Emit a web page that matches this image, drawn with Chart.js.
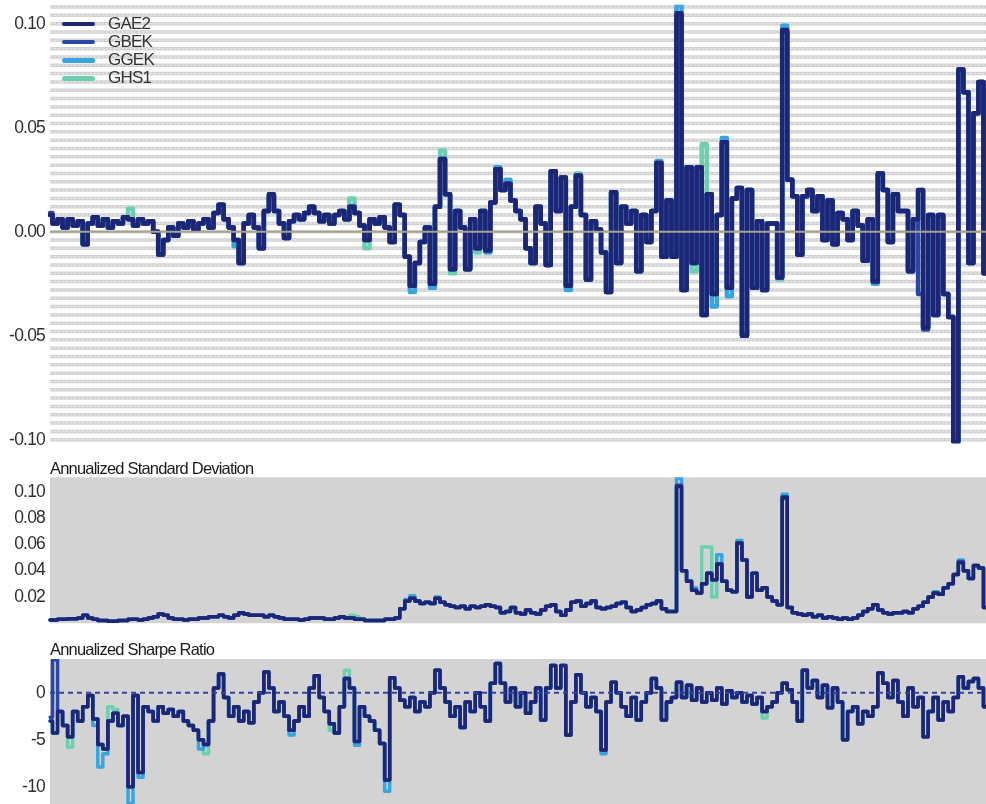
<!DOCTYPE html>
<html>
<head>
<meta charset="utf-8">
<script src="https://cdn.jsdelivr.net/npm/chart.js@4.4.1/dist/chart.umd.min.js"></script>
<style>
  html, body { margin: 0; padding: 0; background: #fff; width: 986px; height: 804px; overflow: hidden; position: relative; }
  .panel { position: absolute; left: 0; width: 986px; }
  #legend { position: absolute; left: 0; top: 0; font-family: "Liberation Sans", Arial, sans-serif; font-size: 17px; letter-spacing: -0.8px; color: #333; }
  #legend .row { position: absolute; left: 0; height: 20px; line-height: 20px; white-space: nowrap; }
  #legend .swatch { position: absolute; left: 62px; top: 8px; width: 33px; height: 4.5px; border-radius: 3px; }
  #legend .name { position: absolute; left: 108px; top: 0; }
</style>
</head>
<body>
<div class="panel" style="top:-16px;height:479px"><canvas id="retChart"></canvas></div>
<div class="panel" style="top:458px;height:185px"><canvas id="sdChart"></canvas></div>
<div class="panel" style="top:640px;height:184px"><canvas id="srChart"></canvas></div>
<div id="legend"></div>
<script>
// Series names and line colours
const SERIES = ['GAE2', 'GBEK', 'GGEK', 'GHS1'];
const COLORS = ['#1d2676', '#2a47a6', '#38a5df', '#6ccfb1'];

// Tick values for each panel
const RET_TICKS = [-0.10, -0.05, 0.00, 0.05, 0.10];
const SD_TICKS = [0.02, 0.04, 0.06, 0.08, 0.10];
const SR_TICKS = [-10, -5, 0];

// Rolling returns
const RET_GAE2 = [
  0.008, 0.004, 0.006, 0.002, 0.006, 0.003, 0.005, -0.006, 0.004, 0.007,
  0.003, 0.006, 0.002, 0.005, 0.004, 0.007, 0.006, 0.003, 0.006, 0.004,
  0.005, 0.000, -0.011, -0.004, 0.002, -0.002, 0.004, 0.002, 0.005, 0.001,
  0.004, 0.006, 0.002, 0.009, 0.013, 0.006, 0.002, -0.004, -0.015, 0.004,
  0.008, 0.002, -0.008, 0.010, 0.018, 0.010, 0.004, -0.003, 0.005, 0.008,
  0.006, 0.009, 0.012, 0.009, 0.005, 0.008, 0.004, 0.008, 0.010, 0.006,
  0.012, 0.009, 0.003, -0.004, 0.006, 0.004, 0.007, 0.002, -0.005, 0.013,
  0.008, -0.012, -0.026, -0.015, -0.005, 0.002, -0.025, 0.012, 0.035, 0.018,
  -0.018, 0.010, 0.002, -0.018, 0.006, -0.008, 0.010, -0.009, 0.014, 0.030,
  0.020, 0.023, 0.015, 0.010, 0.006, -0.008, -0.015, 0.012, 0.004, -0.016,
  0.029, 0.010, 0.026, -0.026, 0.012, 0.027, 0.008, -0.023, 0.005, 0.001,
  -0.010, -0.029, 0.019, -0.015, 0.012, 0.004, 0.010, -0.019, 0.008, -0.005,
  0.010, 0.033, -0.012, 0.015, -0.012, 0.105, -0.028, 0.031, -0.015, 0.031,
  -0.040, 0.018, -0.030, 0.008, 0.043, -0.027, 0.016, 0.021, -0.050, 0.020,
  -0.027, 0.005, -0.028, 0.004, 0.004, -0.022, 0.097, 0.025, 0.017, -0.011,
  0.017, 0.020, 0.010, 0.017, -0.004, 0.015, -0.006, 0.009, 0.006, -0.004,
  0.010, 0.003, -0.014, 0.006, -0.024, 0.028, 0.020, -0.005, 0.018, 0.010,
  0.010, -0.019, 0.006, 0.020, -0.046, 0.008, -0.040, 0.008, -0.030, -0.041,
  -0.101, 0.078, 0.067, -0.015, 0.057, 0.072, -0.020
];
const RET_GBEK = [
  0.009, 0.004, 0.006, 0.002, 0.006, 0.003, 0.005, -0.006, 0.004, 0.007,
  0.003, 0.006, 0.002, 0.005, 0.004, 0.007, 0.006, 0.003, 0.006, 0.004,
  0.005, 0.000, -0.011, -0.004, 0.002, -0.002, 0.004, 0.002, 0.005, 0.001,
  0.004, 0.006, 0.002, 0.009, 0.013, 0.006, 0.002, -0.004, -0.015, 0.004,
  0.008, 0.002, -0.008, 0.010, 0.017, 0.010, 0.004, -0.003, 0.005, 0.008,
  0.006, 0.009, 0.012, 0.009, 0.005, 0.008, 0.004, 0.008, 0.010, 0.006,
  0.012, 0.009, 0.003, -0.004, 0.006, 0.004, 0.007, 0.002, -0.005, 0.013,
  0.008, -0.012, -0.026, -0.015, -0.005, 0.002, -0.025, 0.012, 0.035, 0.018,
  -0.018, 0.010, 0.002, -0.018, 0.006, -0.008, 0.010, -0.009, 0.014, 0.030,
  0.020, 0.023, 0.015, 0.010, 0.006, -0.008, -0.015, 0.012, 0.004, -0.016,
  0.029, 0.010, 0.026, -0.026, 0.012, 0.027, 0.008, -0.023, 0.005, 0.001,
  -0.010, -0.029, 0.019, -0.015, 0.012, 0.004, 0.010, -0.019, 0.008, -0.005,
  0.010, 0.033, -0.012, 0.015, -0.012, 0.104, -0.028, 0.031, -0.015, 0.031,
  -0.040, 0.018, -0.030, 0.008, 0.043, -0.027, 0.016, 0.021, -0.050, 0.020,
  -0.027, 0.005, -0.028, 0.004, 0.004, -0.022, 0.096, 0.025, 0.017, -0.011,
  0.017, 0.020, 0.010, 0.017, -0.004, 0.015, -0.006, 0.009, 0.006, -0.004,
  0.010, 0.003, -0.014, 0.006, -0.024, 0.028, 0.020, -0.005, 0.018, 0.010,
  0.010, -0.019, 0.006, -0.030, -0.047, 0.008, -0.040, 0.008, -0.030, -0.041,
  -0.101, 0.078, 0.067, -0.015, 0.057, 0.072, -0.020
];
const RET_GGEK = [
  0.008, 0.004, 0.006, 0.002, 0.006, 0.003, 0.005, -0.006, 0.004, 0.007,
  0.003, 0.006, 0.002, 0.005, 0.004, 0.007, 0.006, 0.003, 0.006, 0.004,
  0.005, 0.000, -0.011, -0.004, 0.002, -0.002, 0.004, 0.002, 0.005, 0.001,
  0.004, 0.006, 0.002, 0.009, 0.013, 0.006, 0.002, -0.007, -0.015, 0.004,
  0.008, 0.002, -0.008, 0.010, 0.018, 0.010, 0.004, -0.003, 0.005, 0.008,
  0.006, 0.009, 0.012, 0.009, 0.005, 0.008, 0.004, 0.008, 0.010, 0.006,
  0.012, 0.009, 0.003, -0.004, 0.006, 0.004, 0.007, 0.002, -0.005, 0.013,
  0.008, -0.012, -0.029, -0.015, -0.005, 0.002, -0.027, 0.012, 0.035, 0.018,
  -0.018, 0.010, 0.002, -0.018, 0.006, -0.008, 0.010, -0.010, 0.014, 0.031,
  0.020, 0.025, 0.015, 0.010, 0.006, -0.008, -0.015, 0.012, 0.004, -0.016,
  0.029, 0.010, 0.026, -0.028, 0.012, 0.027, 0.008, -0.023, 0.005, 0.001,
  -0.010, -0.029, 0.019, -0.015, 0.012, 0.004, 0.010, -0.019, 0.008, -0.005,
  0.010, 0.034, -0.012, 0.015, -0.012, 0.109, -0.028, 0.031, -0.015, 0.031,
  -0.040, 0.018, -0.036, 0.008, 0.045, -0.031, 0.016, 0.021, -0.050, 0.020,
  -0.027, 0.005, -0.028, 0.004, 0.004, -0.022, 0.099, 0.025, 0.017, -0.011,
  0.017, 0.020, 0.010, 0.017, -0.004, 0.015, -0.006, 0.009, 0.006, -0.004,
  0.010, 0.003, -0.014, 0.006, -0.025, 0.028, 0.020, -0.005, 0.018, 0.010,
  0.010, -0.019, 0.006, 0.020, -0.046, 0.008, -0.040, 0.008, -0.030, -0.041,
  -0.101, 0.078, 0.067, -0.015, 0.057, 0.072, -0.020
];
const RET_GHS1 = [
  0.008, 0.004, 0.006, 0.002, 0.006, 0.003, 0.005, -0.006, 0.004, 0.007,
  0.003, 0.006, 0.002, 0.005, 0.004, 0.007, 0.011, 0.003, 0.006, 0.004,
  0.005, 0.000, -0.011, -0.004, 0.002, -0.002, 0.004, 0.002, 0.005, 0.001,
  0.004, 0.006, 0.002, 0.009, 0.013, 0.006, 0.002, -0.004, -0.015, 0.004,
  0.008, 0.002, -0.008, 0.010, 0.018, 0.010, 0.004, -0.003, 0.005, 0.008,
  0.006, 0.009, 0.012, 0.009, 0.005, 0.008, 0.004, 0.008, 0.010, 0.006,
  0.016, 0.009, 0.003, -0.008, 0.006, 0.004, 0.007, 0.002, -0.005, 0.013,
  0.008, -0.012, -0.026, -0.015, -0.005, 0.002, -0.025, 0.012, 0.039, 0.018,
  -0.020, 0.010, 0.002, -0.018, 0.006, -0.010, 0.010, -0.009, 0.014, 0.030,
  0.020, 0.023, 0.015, 0.010, 0.006, -0.008, -0.015, 0.012, 0.004, -0.016,
  0.029, 0.010, 0.026, -0.026, 0.012, 0.028, 0.008, -0.023, 0.005, 0.001,
  -0.010, -0.029, 0.019, -0.015, 0.012, 0.004, 0.010, -0.019, 0.008, -0.005,
  0.010, 0.033, -0.012, 0.015, -0.012, 0.104, -0.028, 0.031, -0.019, 0.031,
  0.042, 0.018, -0.030, 0.008, 0.043, -0.027, 0.016, 0.021, -0.050, 0.020,
  -0.027, 0.005, -0.028, 0.004, 0.004, -0.023, 0.096, 0.025, 0.017, -0.011,
  0.017, 0.020, 0.010, 0.017, -0.004, 0.015, -0.006, 0.009, 0.006, -0.004,
  0.010, 0.003, -0.014, 0.006, -0.024, 0.028, 0.020, -0.005, 0.018, 0.010,
  0.010, -0.019, 0.006, 0.020, -0.046, 0.008, -0.040, 0.008, -0.030, -0.041,
  -0.101, 0.078, 0.067, -0.015, 0.057, 0.072, -0.020
];

// Annualized standard deviation
const SD_GAE2 = [
  0.0025, 0.0025, 0.003, 0.003, 0.0035, 0.0035, 0.004, 0.006, 0.004, 0.003,
  0.002, 0.002, 0.0015, 0.0015, 0.002, 0.002, 0.003, 0.003, 0.0025, 0.003,
  0.004, 0.005, 0.007, 0.006, 0.004, 0.003, 0.003, 0.0025, 0.003, 0.003,
  0.004, 0.004, 0.005, 0.005, 0.006, 0.005, 0.004, 0.006, 0.008, 0.007,
  0.006, 0.006, 0.006, 0.005, 0.006, 0.005, 0.004, 0.003, 0.003, 0.003,
  0.0025, 0.003, 0.004, 0.004, 0.004, 0.003, 0.003, 0.004, 0.005, 0.004,
  0.004, 0.003, 0.003, 0.002, 0.002, 0.002, 0.002, 0.003, 0.003, 0.004,
  0.011, 0.017, 0.019, 0.017, 0.015, 0.016, 0.015, 0.019, 0.016, 0.014,
  0.013, 0.012, 0.013, 0.011, 0.013, 0.012, 0.013, 0.014, 0.013, 0.012,
  0.008, 0.009, 0.012, 0.008, 0.007, 0.010, 0.008, 0.007, 0.010, 0.013,
  0.014, 0.009, 0.006, 0.010, 0.016, 0.017, 0.013, 0.015, 0.017, 0.012,
  0.011, 0.012, 0.013, 0.015, 0.016, 0.012, 0.009, 0.010, 0.012, 0.014,
  0.015, 0.017, 0.011, 0.009, 0.009, 0.104, 0.040, 0.032, 0.025, 0.023,
  0.030, 0.038, 0.033, 0.045, 0.032, 0.025, 0.024, 0.061, 0.048, 0.020,
  0.038, 0.025, 0.027, 0.020, 0.017, 0.014, 0.096, 0.012, 0.008, 0.007,
  0.006, 0.007, 0.005, 0.006, 0.004, 0.005, 0.004, 0.003, 0.004, 0.003,
  0.004, 0.006, 0.009, 0.011, 0.014, 0.010, 0.008, 0.007, 0.008, 0.008,
  0.009, 0.008, 0.011, 0.013, 0.016, 0.020, 0.023, 0.022, 0.027, 0.030,
  0.037, 0.046, 0.040, 0.034, 0.044, 0.042, 0.012
];
const SD_GBEK = [
  0.0025, 0.0025, 0.003, 0.003, 0.0035, 0.0035, 0.004, 0.006, 0.004, 0.003,
  0.002, 0.002, 0.0015, 0.0015, 0.002, 0.002, 0.003, 0.003, 0.0025, 0.003,
  0.004, 0.005, 0.007, 0.006, 0.004, 0.003, 0.003, 0.0025, 0.003, 0.003,
  0.004, 0.004, 0.005, 0.005, 0.006, 0.005, 0.004, 0.006, 0.008, 0.007,
  0.006, 0.006, 0.006, 0.005, 0.006, 0.005, 0.004, 0.003, 0.003, 0.003,
  0.0025, 0.003, 0.004, 0.004, 0.004, 0.003, 0.003, 0.004, 0.005, 0.004,
  0.004, 0.003, 0.003, 0.002, 0.002, 0.002, 0.002, 0.003, 0.003, 0.004,
  0.011, 0.017, 0.019, 0.017, 0.015, 0.016, 0.015, 0.019, 0.016, 0.014,
  0.013, 0.012, 0.013, 0.011, 0.013, 0.012, 0.013, 0.014, 0.013, 0.012,
  0.008, 0.009, 0.012, 0.008, 0.007, 0.010, 0.008, 0.007, 0.010, 0.013,
  0.014, 0.009, 0.006, 0.010, 0.016, 0.017, 0.013, 0.015, 0.017, 0.012,
  0.011, 0.012, 0.013, 0.015, 0.016, 0.012, 0.009, 0.010, 0.012, 0.014,
  0.015, 0.017, 0.011, 0.009, 0.009, 0.105, 0.040, 0.032, 0.025, 0.023,
  0.030, 0.038, 0.033, 0.045, 0.032, 0.025, 0.024, 0.061, 0.048, 0.020,
  0.038, 0.025, 0.027, 0.020, 0.017, 0.014, 0.095, 0.012, 0.008, 0.007,
  0.006, 0.007, 0.005, 0.006, 0.004, 0.005, 0.004, 0.003, 0.004, 0.003,
  0.004, 0.006, 0.009, 0.011, 0.014, 0.010, 0.008, 0.007, 0.008, 0.008,
  0.009, 0.008, 0.011, 0.013, 0.016, 0.020, 0.023, 0.022, 0.027, 0.030,
  0.037, 0.047, 0.040, 0.034, 0.044, 0.042, 0.012
];
const SD_GGEK = [
  0.0025, 0.0025, 0.003, 0.003, 0.0035, 0.0035, 0.004, 0.006, 0.004, 0.003,
  0.002, 0.002, 0.0015, 0.0015, 0.002, 0.002, 0.003, 0.003, 0.0025, 0.003,
  0.004, 0.005, 0.007, 0.006, 0.004, 0.003, 0.003, 0.0025, 0.003, 0.003,
  0.004, 0.004, 0.005, 0.005, 0.006, 0.005, 0.004, 0.006, 0.008, 0.007,
  0.006, 0.006, 0.006, 0.005, 0.006, 0.005, 0.004, 0.003, 0.003, 0.003,
  0.0025, 0.003, 0.004, 0.004, 0.004, 0.003, 0.003, 0.004, 0.005, 0.004,
  0.004, 0.003, 0.003, 0.002, 0.002, 0.002, 0.002, 0.003, 0.003, 0.004,
  0.011, 0.018, 0.021, 0.017, 0.015, 0.016, 0.015, 0.020, 0.016, 0.014,
  0.013, 0.012, 0.013, 0.011, 0.013, 0.012, 0.013, 0.014, 0.013, 0.012,
  0.008, 0.009, 0.012, 0.008, 0.007, 0.010, 0.008, 0.007, 0.010, 0.013,
  0.014, 0.009, 0.006, 0.010, 0.016, 0.017, 0.013, 0.015, 0.017, 0.012,
  0.011, 0.012, 0.013, 0.015, 0.016, 0.012, 0.009, 0.010, 0.012, 0.014,
  0.015, 0.017, 0.011, 0.009, 0.009, 0.110, 0.040, 0.032, 0.027, 0.023,
  0.030, 0.038, 0.033, 0.052, 0.032, 0.025, 0.024, 0.063, 0.048, 0.020,
  0.038, 0.025, 0.027, 0.020, 0.017, 0.014, 0.098, 0.012, 0.008, 0.007,
  0.006, 0.007, 0.005, 0.006, 0.004, 0.005, 0.004, 0.003, 0.004, 0.003,
  0.004, 0.006, 0.009, 0.011, 0.014, 0.010, 0.008, 0.007, 0.008, 0.008,
  0.009, 0.008, 0.011, 0.013, 0.016, 0.020, 0.024, 0.022, 0.027, 0.030,
  0.037, 0.048, 0.040, 0.034, 0.044, 0.042, 0.012
];
const SD_GHS1 = [
  0.0025, 0.0025, 0.003, 0.003, 0.0035, 0.0035, 0.004, 0.006, 0.004, 0.003,
  0.002, 0.002, 0.0015, 0.0015, 0.002, 0.002, 0.003, 0.003, 0.0025, 0.003,
  0.004, 0.005, 0.007, 0.006, 0.004, 0.003, 0.003, 0.0025, 0.003, 0.003,
  0.004, 0.004, 0.005, 0.005, 0.006, 0.005, 0.004, 0.006, 0.008, 0.007,
  0.006, 0.006, 0.006, 0.005, 0.006, 0.005, 0.004, 0.003, 0.003, 0.003,
  0.0025, 0.003, 0.004, 0.004, 0.004, 0.003, 0.003, 0.004, 0.005, 0.004,
  0.006, 0.005, 0.003, 0.002, 0.002, 0.002, 0.002, 0.003, 0.003, 0.004,
  0.011, 0.017, 0.019, 0.017, 0.015, 0.016, 0.015, 0.019, 0.016, 0.014,
  0.013, 0.012, 0.013, 0.011, 0.013, 0.012, 0.013, 0.014, 0.013, 0.012,
  0.008, 0.009, 0.012, 0.008, 0.007, 0.010, 0.008, 0.007, 0.010, 0.013,
  0.014, 0.009, 0.006, 0.010, 0.016, 0.017, 0.013, 0.015, 0.017, 0.012,
  0.011, 0.012, 0.013, 0.015, 0.016, 0.012, 0.009, 0.010, 0.012, 0.014,
  0.015, 0.017, 0.011, 0.009, 0.009, 0.103, 0.040, 0.032, 0.025, 0.023,
  0.058, 0.058, 0.020, 0.045, 0.032, 0.025, 0.024, 0.061, 0.048, 0.020,
  0.038, 0.025, 0.027, 0.020, 0.017, 0.014, 0.094, 0.012, 0.008, 0.007,
  0.006, 0.007, 0.005, 0.006, 0.004, 0.005, 0.004, 0.003, 0.004, 0.003,
  0.004, 0.006, 0.009, 0.011, 0.014, 0.010, 0.008, 0.007, 0.008, 0.008,
  0.009, 0.008, 0.011, 0.013, 0.016, 0.020, 0.023, 0.022, 0.027, 0.030,
  0.037, 0.046, 0.040, 0.034, 0.044, 0.042, 0.012
];

// Annualized Sharpe ratio
const SR_GAE2 = [
  -3.0, -4.3, -2.0, -3.5, -4.7, -2.0, -3.0, -1.5, -0.3, -2.8,
  -5.5, -6.0, -3.0, -2.2, -3.5, -2.5, -10.0, -0.3, -8.5, -1.5,
  -2.0, -3.0, -1.5, -2.2, -1.8, -2.5, -2.0, -3.0, -3.5, -4.0,
  -5.0, -5.5, -3.0, 0.5, 2.0, -0.5, -2.5, -1.5, -3.0, -2.0,
  -3.2, -1.0, 0.0, 2.2, 0.5, -2.0, -1.0, -2.5, -4.0, -3.0,
  -1.5, -2.5, 0.5, 1.8, -0.5, -2.0, -3.3, -4.3, -1.5, 1.5,
  0.5, -5.2, -1.5, -2.5, -3.0, -4.0, -5.4, -9.3, 1.6, 0.5,
  -0.8, -1.5, -0.5, -2.0, -1.0, -1.5, 0.0, 2.4, 0.5, -1.0,
  -2.5, -1.5, -3.7, -1.0, -2.0, 0.0, -1.5, -3.0, 1.0, 3.1,
  1.0, -1.0, 0.5, -1.5, 0.0, -2.2, -1.0, 0.5, -2.9, 0.5,
  2.9, 0.5, 2.9, -4.5, -1.0, 1.9, 0.0, -1.5, -0.5, -2.0,
  -6.1, -1.0, 1.1, 0.0, -1.5, -2.5, -0.5, -2.9, -1.0, 0.0,
  1.5, 0.5, -2.9, -1.0, -0.5, 1.1, -0.5, 0.8, -0.8, 0.5,
  -1.0, 0.0, -0.8, 0.5, -1.2, 0.2, -0.5, 0.0, -1.0, -0.3,
  -1.2, -0.5, -2.0, -1.5, -1.0, 0.0, 1.0, 0.3, -1.0, -3.0,
  2.4, 0.5, 1.3, -0.5, 0.8, -1.6, 0.5, -1.0, -5.0, -2.0,
  -1.5, -3.3, -2.0, -2.5, -1.5, 2.1, 1.0, -0.5, 1.3, -1.0,
  -2.5, 0.5, -1.5, -0.5, -4.7, -2.0, -0.5, -2.9, -1.0, -2.0,
  -0.5, 1.7, 0.5, 1.2, 1.5, 0.5, -1.5
];
const SR_GBEK = [
  -2.6, 3.5, -2.0, -3.5, -4.7, -2.0, -3.0, -1.5, -0.3, -2.8,
  -5.5, -6.0, -3.0, -2.2, -3.5, -2.5, -10.0, -0.3, -8.5, -1.5,
  -2.0, -3.0, -1.5, -2.2, -1.8, -2.5, -2.0, -3.0, -3.5, -4.0,
  -5.0, -5.5, -3.0, 0.5, 2.0, -0.5, -2.5, -1.5, -3.0, -2.0,
  -3.2, -1.0, 0.0, 2.2, 0.5, -2.0, -1.0, -2.5, -4.0, -3.0,
  -1.5, -2.5, 0.5, 1.8, -0.5, -2.0, -3.3, -4.3, -1.5, 1.5,
  0.5, -5.2, -1.5, -2.5, -3.0, -4.0, -5.4, -9.3, 1.6, 0.5,
  -0.8, -1.5, -0.5, -2.0, -1.0, -1.5, 0.0, 2.4, 0.5, -1.0,
  -2.5, -1.5, -3.7, -1.0, -2.0, 0.0, -1.5, -3.0, 1.0, 3.1,
  1.0, -1.0, 0.5, -1.5, 0.0, -2.2, -1.0, 0.5, -2.9, 0.5,
  2.9, 0.5, 2.9, -4.5, -1.0, 1.9, 0.0, -1.5, -0.5, -2.0,
  -6.1, -1.0, 1.1, 0.0, -1.5, -2.5, -0.5, -2.9, -1.0, 0.0,
  1.5, 0.5, -2.9, -1.0, -0.5, 1.1, -0.5, 0.8, -0.8, 0.5,
  -1.0, 0.0, -0.8, 0.5, -1.2, 0.2, -0.5, 0.0, -1.0, -0.3,
  -1.2, -0.5, -2.0, -1.5, -1.0, 0.0, 1.0, 0.3, -1.0, -3.0,
  2.4, 0.5, 1.3, -0.5, 0.8, -1.6, 0.5, -1.0, -5.0, -2.0,
  -1.5, -3.3, -2.0, -2.5, -1.5, 2.1, 1.0, -0.5, 1.3, -1.0,
  -2.5, 0.5, -1.5, -0.5, -4.7, -2.0, -0.5, -2.9, -1.0, -2.0,
  -0.5, 1.7, 0.5, 1.2, 1.5, 0.5, -1.5
];
const SR_GGEK = [
  -3.0, -4.3, -2.0, -3.5, -4.7, -2.0, -3.0, -1.5, -0.3, -3.5,
  -7.9, -6.5, -3.0, -2.2, -3.5, -2.5, -11.8, -0.3, -9.0, -1.5,
  -2.0, -3.0, -1.5, -2.2, -1.8, -2.5, -2.0, -3.0, -3.5, -4.0,
  -6.0, -5.5, -3.0, 0.5, 2.0, -0.5, -2.5, -1.5, -3.0, -2.0,
  -3.2, -1.0, 0.0, 2.2, 0.5, -2.0, -1.0, -2.5, -4.5, -3.0,
  -1.5, -2.5, 0.5, 1.8, -0.5, -2.0, -3.3, -4.3, -1.5, 1.5,
  0.5, -5.6, -1.5, -2.5, -3.0, -4.0, -5.4, -10.5, 1.6, 0.5,
  -0.8, -1.5, -0.5, -2.0, -1.0, -1.5, 0.0, 2.4, 0.5, -1.0,
  -2.5, -1.5, -3.7, -1.0, -2.0, 0.0, -1.5, -3.0, 1.0, 3.1,
  1.0, -1.0, 0.5, -1.5, 0.0, -2.2, -1.0, 0.5, -2.9, 0.5,
  2.9, 0.5, 2.9, -4.5, -1.0, 1.9, 0.0, -1.5, -0.5, -2.0,
  -6.5, -1.0, 1.1, 0.0, -1.5, -2.5, -0.5, -2.9, -1.0, 0.0,
  1.5, 0.5, -2.9, -1.0, -0.5, 1.1, -0.5, 0.8, -0.8, 0.5,
  -1.0, 0.0, -0.8, 0.5, -1.2, 0.2, -0.5, 0.0, -1.0, -0.3,
  -1.2, -0.5, -2.0, -1.5, -1.0, 0.0, 1.0, 0.3, -1.0, -3.0,
  2.4, 0.5, 1.3, -0.5, 0.8, -1.6, 0.5, -1.0, -5.0, -2.0,
  -1.5, -3.3, -2.0, -2.5, -1.5, 2.1, 1.0, -0.5, 1.3, -1.0,
  -2.5, 0.5, -1.5, -0.5, -4.7, -2.0, -0.5, -2.9, -1.0, -2.0,
  -0.5, 1.7, 0.5, 1.2, 1.5, 0.5, -1.5
];
const SR_GHS1 = [
  -3.0, -4.3, -2.0, -3.5, -5.8, -2.0, -3.0, -1.5, -0.3, -2.8,
  -5.5, -6.0, -1.5, -1.8, -3.5, -2.5, -10.0, -0.3, -8.5, -1.5,
  -2.0, -3.0, -1.5, -2.2, -1.8, -2.5, -2.0, -3.0, -3.5, -4.0,
  -5.0, -6.5, -3.0, 0.5, 2.0, -0.5, -2.5, -1.5, -3.0, -2.0,
  -3.2, -1.0, 0.0, 2.2, 0.5, -2.0, -1.0, -2.5, -4.0, -3.0,
  -1.5, -2.5, 0.5, 1.8, -0.5, -2.0, -4.0, -4.3, -1.5, 2.4,
  0.5, -5.2, -1.5, -2.5, -3.0, -4.0, -5.4, -9.3, 1.6, 0.5,
  -0.8, -1.5, -0.5, -2.0, -1.0, -1.5, 0.0, 2.4, 0.5, -1.0,
  -2.5, -1.5, -3.7, -1.0, -2.0, 0.0, -1.5, -3.0, 1.0, 3.1,
  1.0, -1.0, 0.5, -1.5, 0.0, -2.2, -1.0, 0.5, -2.9, 0.5,
  2.9, 0.5, 2.9, -4.5, -1.0, 1.9, 0.0, -1.5, -0.5, -2.0,
  -6.1, -1.0, 1.1, 0.0, -1.5, -2.5, -0.5, -2.9, -1.0, 0.0,
  1.5, 0.5, -2.9, -1.0, -0.5, 1.1, -0.5, 0.8, -0.8, 0.5,
  -1.0, 0.0, -0.8, 0.5, -1.2, 0.2, -0.5, 0.0, -1.0, -0.3,
  -1.2, -0.5, -2.7, -1.5, -1.0, 0.0, 1.0, 0.3, -1.0, -3.0,
  2.4, 0.5, 1.3, -0.5, 0.8, -1.6, 0.5, -1.0, -5.0, -2.0,
  -1.5, -3.3, -2.0, -2.5, -1.5, 2.1, 1.0, -0.5, 1.3, -1.0,
  -2.5, 0.5, -1.5, -0.5, -4.7, -2.0, -0.5, -2.9, -1.0, -2.0,
  -0.5, 1.7, 0.5, 1.2, 1.5, 0.5, -1.5
];

const PERIODS = RET_GAE2.map((_, i) => i);
const FONT = 'Liberation Sans';

// Condensed lettering for every text the canvases draw
const tightText = {
  id: 'tightText',
  beforeLayout(chart) { chart.ctx.letterSpacing = '-0.8px'; },
  beforeDraw(chart) { chart.ctx.letterSpacing = '-0.8px'; }
};

// Grey panel background and heavy horizontal rules
const panelBackdrop = {
  id: 'panelBackdrop',
  beforeDatasetsDraw(chart, args, opts) {
    const { ctx, chartArea: a } = chart;
    ctx.save();
    if (opts.fill) {
      ctx.fillStyle = opts.fill;
      ctx.fillRect(a.left, a.top, a.right - a.left, a.bottom - a.top);
    }
    if (opts.ruleStep) {
      const ys = chart.scales.y;
      const first = Math.ceil(ys.min / opts.ruleStep);
      ctx.strokeStyle = opts.ruleColor;
      ctx.lineWidth = opts.ruleWidth;
      for (let k = first; k * opts.ruleStep <= ys.max; k++) {
        const py = ys.getPixelForValue(k * opts.ruleStep);
        ctx.beginPath();
        ctx.moveTo(a.left, py);
        ctx.lineTo(a.right, py);
        ctx.stroke();
      }
      ctx.strokeStyle = 'rgba(255,255,255,0.75)';
      ctx.lineWidth = 1;
      ctx.setLineDash([1.5, 2.5]);
      for (let k = first; k * opts.ruleStep <= ys.max; k++) {
        const py = ys.getPixelForValue(k * opts.ruleStep);
        ctx.beginPath();
        ctx.moveTo(a.left, py);
        ctx.lineTo(a.right, py);
        ctx.stroke();
      }
    }
    ctx.restore();
  }
};

// Reference line at a fixed value, drawn over the series
const refLine = {
  id: 'refLine',
  afterDatasetsDraw(chart, args, opts) {
    if (opts.value === undefined) return;
    const { ctx, chartArea: a } = chart;
    const py = chart.scales.y.getPixelForValue(opts.value);
    ctx.save();
    ctx.strokeStyle = opts.color;
    ctx.lineWidth = opts.width;
    ctx.setLineDash(opts.dash || []);
    ctx.beginPath();
    ctx.moveTo(a.left, py);
    ctx.lineTo(a.right, py);
    ctx.stroke();
    ctx.restore();
  }
};

function datasets(values, width) {
  return SERIES.map((name, k) => ({
    label: name,
    data: values[k],
    borderColor: COLORS[k],
    backgroundColor: COLORS[k],
    borderWidth: width,
    pointRadius: 0,
    stepped: 'middle',
    fill: false,
    borderJoinStyle: 'round',
    borderCapStyle: 'round'
  }));
}

function makeChart(id, cfg) {
  return new Chart(document.getElementById(id), {
    type: 'line',
    data: { labels: PERIODS, datasets: datasets(cfg.values, cfg.width) },
    plugins: [tightText, panelBackdrop, refLine],
    options: {
      responsive: true,
      maintainAspectRatio: false,
      animation: false,
      events: [],
      layout: { padding: cfg.pad },
      scales: {
        x: { type: 'category', display: false, offset: false },
        y: {
          min: cfg.min,
          max: cfg.max,
          afterFit(scale) { scale.width = 50; },
          afterBuildTicks(scale) { scale.ticks = cfg.ticks.map(v => ({ value: v })); },
          grid: { display: false, drawTicks: false },
          border: { display: false },
          ticks: {
            padding: 5,
            color: '#2f2f2f',
            font: { family: FONT, size: 17.5, lineHeight: 1 },
            callback: cfg.format
          }
        }
      },
      plugins: {
        legend: { display: false },
        tooltip: { enabled: false },
        title: cfg.title ? {
          display: true,
          text: cfg.title,
          align: 'start',
          fullSize: false,
          color: '#1a1a1a',
          font: { family: FONT, size: 16.5, weight: 'normal', lineHeight: 1 },
          padding: cfg.titlePad
        } : { display: false },
        panelBackdrop: cfg.backdrop,
        refLine: cfg.ref
      }
    }
  });
}

makeChart('retChart', {
  values: [RET_GAE2, RET_GBEK, RET_GGEK, RET_GHS1],
  width: 4.5,
  pad: { top: 20.75, bottom: 19.75, left: 0, right: 0 },
  min: -0.1017, max: 0.1091,
  ticks: RET_TICKS,
  format: v => v.toFixed(2),
  backdrop: { ruleStep: 0.004, ruleColor: '#d3d3d3', ruleWidth: 3.5 },
  ref: { value: 0, color: '#a8a28e', width: 2 }
});

makeChart('sdChart', {
  values: [SD_GAE2, SD_GBEK, SD_GGEK, SD_GHS1],
  width: 3.5,
  pad: { top: 0, bottom: 19.75, left: 0, right: 0 },
  min: 0, max: 0.111,
  ticks: SD_TICKS,
  format: v => v.toFixed(2),
  title: 'Annualized Standard Deviation',
  titlePad: { top: 2.75, bottom: 0 },
  backdrop: { fill: '#d3d3d3' },
  ref: {}
});

makeChart('srChart', {
  values: [SR_GAE2, SR_GBEK, SR_GGEK, SR_GHS1],
  width: 3.5,
  pad: { top: 0, bottom: 19.75, left: 0, right: 0 },
  min: -11.87, max: 3.585,
  ticks: SR_TICKS,
  format: v => String(v),
  title: 'Annualized Sharpe Ratio',
  titlePad: { top: 2.25, bottom: 0.25 },
  backdrop: { fill: '#d3d3d3' },
  ref: { value: 0, color: '#33449f', width: 2, dash: [5, 4] }
});

// Legend for the series, top-left of the returns panel
const legend = document.getElementById('legend');
SERIES.forEach((name, k) => {
  const row = document.createElement('div');
  row.className = 'row';
  row.style.top = (13.5 + k * 18.3) + 'px';
  const sw = document.createElement('span');
  sw.className = 'swatch';
  sw.style.background = COLORS[k];
  const tx = document.createElement('span');
  tx.className = 'name';
  tx.textContent = name;
  row.appendChild(sw);
  row.appendChild(tx);
  legend.appendChild(row);
});
</script>
</body>
</html>
